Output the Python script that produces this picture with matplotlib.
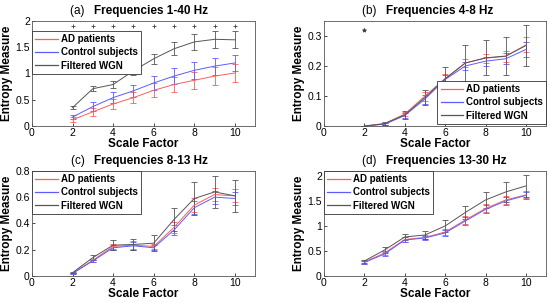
import numpy as np
import matplotlib
matplotlib.use('Agg')
import matplotlib.pyplot as plt
from matplotlib.lines import Line2D

plt.rcParams['font.family'] = ['Liberation Sans', 'DejaVu Sans']

scale = [2, 3, 4, 5, 6, 7, 8, 9, 10]
labels = ['AD patients', 'Control subjects', 'Filtered WGN']
colors = ['#ff5c5c', '#5c5cff', '#555555']

# (a) 1-40 Hz
a_ad = [0.12, 0.27, 0.42, 0.54, 0.68, 0.79, 0.87, 0.95, 1.01]
a_ad_err = [0.05, 0.08, 0.10, 0.11, 0.13, 0.15, 0.16, 0.17, 0.17]
a_ctl = [0.17, 0.37, 0.54, 0.67, 0.82, 0.95, 1.06, 1.14, 1.20]
a_ctl_err = [0.04, 0.08, 0.10, 0.11, 0.13, 0.15, 0.16, 0.16, 0.15]
a_wgn = [0.35, 0.71, 0.79, 1.05, 1.28, 1.47, 1.60, 1.65, 1.64]
a_wgn_err = [0.03, 0.05, 0.07, 0.08, 0.10, 0.12, 0.15, 0.16, 0.16]
a_sig = [2, 3, 4, 5, 6, 7, 8, 9, 10]
a_sig_y = 1.9

# (b) 4-8 Hz
b_ad = [0.0, 0.008, 0.040, 0.100, 0.158, 0.210, 0.226, 0.232, 0.270]
b_ad_err = [0.001, 0.003, 0.008, 0.015, 0.015, 0.012, 0.015, 0.018, 0.025]
b_ctl = [0.0, 0.006, 0.035, 0.090, 0.155, 0.200, 0.216, 0.224, 0.255]
b_ctl_err = [0.001, 0.003, 0.008, 0.015, 0.015, 0.012, 0.015, 0.018, 0.025]
b_wgn = [0.0, 0.008, 0.037, 0.095, 0.157, 0.210, 0.227, 0.233, 0.268]
b_wgn_err = [0.001, 0.004, 0.012, 0.025, 0.040, 0.060, 0.058, 0.062, 0.068]
b_sig = [2]
b_sig_y = 0.32

# (c) 8-13 Hz
c_ad = [0.02, 0.12, 0.225, 0.235, 0.225, 0.37, 0.54, 0.62, 0.61]
c_ad_err = [0.005, 0.01, 0.02, 0.03, 0.02, 0.04, 0.05, 0.05, 0.05]
c_ctl = [0.02, 0.115, 0.215, 0.23, 0.215, 0.35, 0.52, 0.60, 0.59]
c_ctl_err = [0.005, 0.01, 0.02, 0.03, 0.02, 0.04, 0.05, 0.05, 0.05]
c_wgn = [0.025, 0.14, 0.235, 0.24, 0.25, 0.43, 0.59, 0.64, 0.61]
c_wgn_err = [0.005, 0.02, 0.04, 0.04, 0.06, 0.085, 0.125, 0.12, 0.12]

# (d) 13-30 Hz
d_ad = [0.28, 0.46, 0.73, 0.77, 0.88, 1.12, 1.35, 1.52, 1.62]
d_ad_err = [0.03, 0.04, 0.05, 0.04, 0.06, 0.08, 0.08, 0.08, 0.07]
d_ctl = [0.27, 0.44, 0.72, 0.76, 0.86, 1.10, 1.33, 1.50, 1.61]
d_ctl_err = [0.03, 0.04, 0.05, 0.04, 0.06, 0.08, 0.08, 0.08, 0.07]
d_wgn = [0.30, 0.52, 0.78, 0.82, 1.00, 1.27, 1.52, 1.68, 1.80]
d_wgn_err = [0.03, 0.05, 0.06, 0.08, 0.12, 0.13, 0.16, 0.20, 0.22]

panels = [
    ('(a)', 'Frequencies 1-40 Hz', (a_ad, a_ctl, a_wgn), (a_ad_err, a_ctl_err, a_wgn_err),
     (0, 2), [0, 0.5, 1, 1.5, 2], ('upper left', (0.0, 0.905)), (a_sig, a_sig_y, '+')),
    ('(b)', 'Frequencies 4-8 Hz', (b_ad, b_ctl, b_wgn), (b_ad_err, b_ctl_err, b_wgn_err),
     (0, 0.35), [0, 0.1, 0.2, 0.3], ('lower right', (1.0, 0.02)), (b_sig, b_sig_y, '*')),
    ('(c)', 'Frequencies 8-13 Hz', (c_ad, c_ctl, c_wgn), (c_ad_err, c_ctl_err, c_wgn_err),
     (0, 0.8), [0, 0.2, 0.4, 0.6, 0.8], ('upper left', (0.0, 1.0)), None),
    ('(d)', 'Frequencies 13-30 Hz', (d_ad, d_ctl, d_wgn), (d_ad_err, d_ctl_err, d_wgn_err),
     (0, 2.1), [0, 0.5, 1, 1.5, 2], ('upper left', (0.0, 1.0)), None),
]

fig = plt.figure(figsize=(5.5, 3.03), dpi=100)
boxes = [
    [0.058, 0.584, 0.406, 0.347],
    [0.589, 0.584, 0.404, 0.347],
    [0.058, 0.089, 0.406, 0.347],
    [0.589, 0.089, 0.404, 0.347],
]

for box, (tag, title, series, errs, ylim, yticks, legpos, sig) in zip(boxes, panels):
    ax = fig.add_axes(box)
    for vals, err, col in zip(series, errs, colors):
        ax.errorbar(scale, vals, yerr=err, color=col, ecolor=col, lw=0.7, elinewidth=0.6,
                    capsize=2, capthick=0.6)
    if sig is not None:
        ax.plot(sig[0], [sig[1]] * len(sig[0]), linestyle='none', marker=sig[2],
                color='#404040', markersize=3, markeredgewidth=0.6)
    ax.set_xlim(0, 11)
    ax.set_ylim(*ylim)
    ax.set_xticks([0, 2, 4, 6, 8, 10])
    ax.set_yticks(yticks)
    ax.set_yticklabels([('%g' % t) for t in yticks])
    ax.tick_params(labelsize=7.5, direction='in', length=2, width=0.5, pad=1.5)
    for s in ax.spines.values():
        s.set_linewidth(0.6)
        s.set_color('#555555')
    ax.set_xlabel('Scale Factor', fontsize=8.5, fontweight='bold', labelpad=0)
    ax.set_ylabel('Entropy Measure', fontsize=8.5, fontweight='bold', labelpad=2)
    ax.text(0.28, 1.04, tag + '   ', transform=ax.transAxes, ha='right', va='bottom', fontsize=8.5)
    ax.text(0.28, 1.04, title, transform=ax.transAxes, ha='left', va='bottom',
            fontsize=8.5, fontweight='bold')
    proxies = [Line2D([], [], color=col, lw=0.9) for col in colors]
    leg = ax.legend(handles=proxies, labels=labels, loc=legpos[0], bbox_to_anchor=legpos[1],
                    frameon=True, fancybox=False, borderpad=0.35,
                    handlelength=2.3, handletextpad=0.3, labelspacing=0.32,
                    borderaxespad=0.0, prop={'weight': 'bold', 'size': 7})
    leg.get_frame().set_edgecolor('#333333')
    leg.get_frame().set_linewidth(0.6)
    leg.get_frame().set_alpha(1)

plt.savefig('out.png', dpi=100)
